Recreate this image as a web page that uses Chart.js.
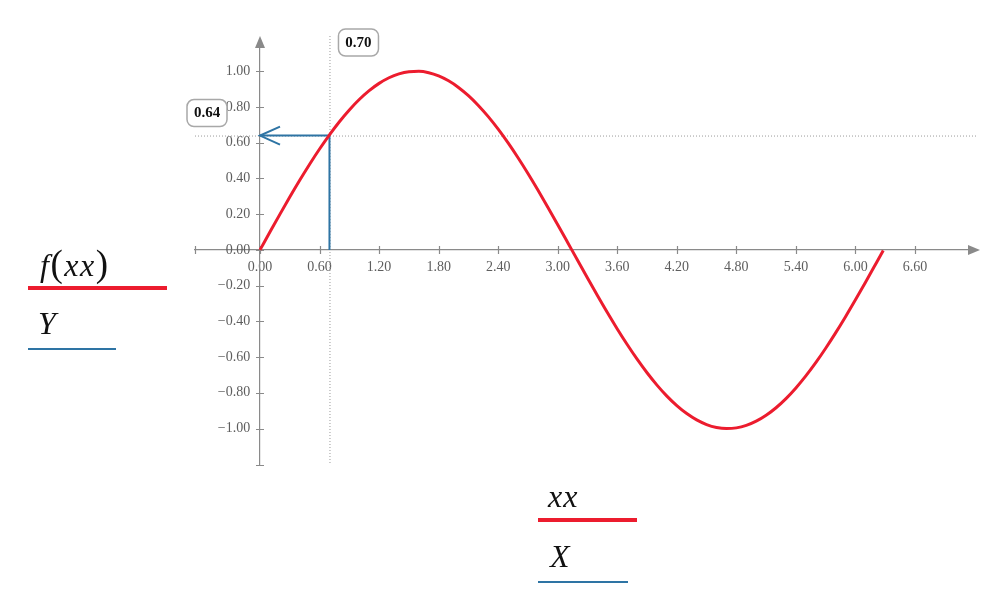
<!DOCTYPE html>
<html>
<head>
<meta charset="utf-8">
<script src="https://cdn.jsdelivr.net/npm/chart.js@4"></script>
<style>
  body { margin: 0; background: #fff; }
  #wrap { position: relative; width: 999px; height: 591px; }
  .leg { position: absolute; font-family: 'Liberation Serif', serif; font-style: italic; color: #111; white-space: nowrap; line-height: 1; font-size: 32px; }
  .up { font-style: normal; font-size: 37px; }
  .bar { position: absolute; }
</style>
</head>
<body>
<div id="wrap">
  <canvas id="plot" width="999" height="591"></canvas>
  <div class="leg" style="left:40px;top:245px;letter-spacing:1.5px">f<span class="up">(</span>xx<span class="up">)</span></div>
  <div class="bar" style="left:28px;top:286px;width:139px;height:4px;background:#ec1c2e"></div>
  <div class="leg" style="left:38px;top:307px">Y</div>
  <div class="bar" style="left:28px;top:348px;width:88px;height:2px;background:#2e74a4"></div>
  <div class="leg" style="left:548px;top:480px;letter-spacing:1px">xx</div>
  <div class="bar" style="left:538px;top:518px;width:99px;height:4px;background:#ec1c2e"></div>
  <div class="leg" style="left:550px;top:540px">X</div>
  <div class="bar" style="left:538px;top:581px;width:90px;height:2px;background:#2e74a4"></div>
</div>
<script>
const xx = [0, 0.1, 0.2, 0.3, 0.4, 0.5, 0.6, 0.7, 0.8, 0.9, 1.0, 1.1, 1.2, 1.3, 1.4, 1.5, 1.6, 1.7, 1.8, 1.9,
  2.0, 2.1, 2.2, 2.3, 2.4, 2.5, 2.6, 2.7, 2.8, 2.9, 3.0, 3.1, 3.2, 3.3, 3.4, 3.5, 3.6, 3.7, 3.8, 3.9,
  4.0, 4.1, 4.2, 4.3, 4.4, 4.5, 4.6, 4.7, 4.8, 4.9, 5.0, 5.1, 5.2, 5.3, 5.4, 5.5, 5.6, 5.7, 5.8, 5.9,
  6.0, 6.1, 6.2, 6.28];
const fxx = [0, 0.0998, 0.1987, 0.2955, 0.3894, 0.4794, 0.5646, 0.6442, 0.7174, 0.7833,
  0.8415, 0.8912, 0.9320, 0.9636, 0.9854, 0.9975, 0.9996, 0.9917, 0.9738, 0.9463,
  0.9093, 0.8632, 0.8085, 0.7457, 0.6755, 0.5985, 0.5155, 0.4274, 0.3350, 0.2392,
  0.1411, 0.0416, -0.0584, -0.1577, -0.2555, -0.3508, -0.4425, -0.5298, -0.6119, -0.6878,
  -0.7568, -0.8183, -0.8716, -0.9162, -0.9516, -0.9775, -0.9937, -0.9999, -0.9962, -0.9825,
  -0.9589, -0.9258, -0.8835, -0.8323, -0.7728, -0.7055, -0.6313, -0.5507, -0.4646, -0.3739,
  -0.2794, -0.1822, -0.0831, -0.0032];
const X = [0.70, 0.70, 0];
const Y = [0, 0.64, 0.64];
const markerX = 0.70;
const markerY = 0.64;
const xTicks = [0, 0.6, 1.2, 1.8, 2.4, 3.0, 3.6, 4.2, 4.8, 5.4, 6.0, 6.6];
const yTicks = [-1.0, -0.8, -0.6, -0.4, -0.2, 0, 0.2, 0.4, 0.6, 0.8, 1.0];

const axisGrey = '#8a8a8a';
const red = '#ec1c2e';
const blue = '#2e74a4';
const serif = '"Liberation Serif"';

function roundRect(ctx, x, y, w, h, r) {
  ctx.beginPath();
  ctx.moveTo(x + r, y);
  ctx.arcTo(x + w, y, x + w, y + h, r);
  ctx.arcTo(x + w, y + h, x, y + h, r);
  ctx.arcTo(x, y + h, x, y, r);
  ctx.arcTo(x, y, x + w, y, r);
  ctx.closePath();
}

const extras = {
  id: 'extras',
  beforeDatasetsDraw(chart) {
    const {ctx, chartArea: a, scales: {x, y}} = chart;
    const x0 = x.getPixelForValue(0), y0 = y.getPixelForValue(0);
    ctx.save();
    // marker lines
    ctx.strokeStyle = '#9a9a9a';
    ctx.lineWidth = 1;
    ctx.setLineDash([1, 2]);
    const mx = x.getPixelForValue(markerX), my = y.getPixelForValue(markerY);
    ctx.beginPath();
    ctx.moveTo(mx + 0.5, a.top - 12); ctx.lineTo(mx + 0.5, a.bottom);
    ctx.moveTo(a.left, my + 0.5); ctx.lineTo(a.right + 10, my + 0.5);
    ctx.stroke();
    ctx.setLineDash([]);
    // ticks crossing the axes
    ctx.strokeStyle = axisGrey;
    ctx.lineWidth = 1.2;
    ctx.beginPath();
    xTicks.concat([x.min]).forEach(v => {
      const p = Math.round(x.getPixelForValue(v)) + 0.5;
      ctx.moveTo(p, y0 - 4); ctx.lineTo(p, y0 + 4);
    });
    yTicks.concat([y.min]).forEach(v => {
      const p = Math.round(y.getPixelForValue(v)) + 0.5;
      ctx.moveTo(x0 - 4, p); ctx.lineTo(x0 + 4, p);
    });
    ctx.stroke();
    // arrowheads
    ctx.fillStyle = axisGrey;
    ctx.beginPath();
    ctx.moveTo(x0, a.top - 12); ctx.lineTo(x0 - 5, a.top); ctx.lineTo(x0 + 5, a.top); ctx.closePath();
    ctx.fill();
    ctx.beginPath();
    ctx.moveTo(a.right + 12, y0); ctx.lineTo(a.right, y0 - 5); ctx.lineTo(a.right, y0 + 5); ctx.closePath();
    ctx.fill();
    ctx.restore();
  },
  afterDatasetsDraw(chart) {
    const {ctx, chartArea: a, scales: {x, y}} = chart;
    const mx = x.getPixelForValue(markerX), my = y.getPixelForValue(markerY);
    const tx = x.getPixelForValue(X[2]);
    ctx.save();
    // open arrow at end of the Y trace
    ctx.strokeStyle = blue;
    ctx.lineWidth = 2;
    ctx.beginPath();
    ctx.moveTo(tx + 20, my - 9); ctx.lineTo(tx, my); ctx.lineTo(tx + 20, my + 9);
    ctx.stroke();
    // value boxes
    ctx.font = 'bold 15px ' + serif;
    ctx.textAlign = 'center';
    ctx.textBaseline = 'middle';
    const boxes = [
      [mx + 9, a.top - 19, markerX.toFixed(2)],
      [a.left - 8, my - 36, markerY.toFixed(2)]
    ];
    boxes.forEach(([bx, by, t]) => {
      roundRect(ctx, bx, by, 40, 27, 7);
      ctx.fillStyle = '#fff';
      ctx.fill();
      ctx.strokeStyle = '#a8a8a8';
      ctx.lineWidth = 1.5;
      ctx.stroke();
      ctx.fillStyle = '#111';
      ctx.fillText(t, bx + 20, by + 14);
    });
    ctx.restore();
  }
};

const fmt = v => v.toFixed(2).replace('-', '\u2212');

new Chart(document.getElementById('plot'), {
  type: 'line',
  data: {
    datasets: [
      {
        label: 'f(xx)',
        data: xx.map((v, i) => ({x: v, y: fxx[i]})),
        borderColor: red,
        borderWidth: 3,
        pointRadius: 0,
        tension: 0.4,
        cubicInterpolationMode: 'monotone'
      },
      {
        label: 'Y',
        data: X.map((v, i) => ({x: v, y: Y[i]})),
        borderColor: blue,
        borderWidth: 2,
        pointRadius: 0,
        tension: 0
      }
    ]
  },
  options: {
    responsive: false,
    animation: false,
    events: [],
    layout: { padding: { left: 195, right: 31, top: 48, bottom: 126 } },
    plugins: {
      legend: { display: false },
      tooltip: { enabled: false }
    },
    scales: {
      x: {
        type: 'linear',
        min: -0.655,
        max: 7.134,
        position: { y: 0 },
        afterBuildTicks: s => { s.ticks = xTicks.map(v => ({value: v})); },
        grid: { display: false },
        border: { color: axisGrey, width: 1.2 },
        ticks: {
          callback: v => fmt(v),
          color: '#5e5e5e',
          padding: 1,
          maxRotation: 0,
          autoSkip: false,
          font: { family: serif, size: 14 }
        }
      },
      y: {
        type: 'linear',
        min: -1.204,
        max: 1.13,
        position: { x: 0 },
        afterBuildTicks: s => { s.ticks = yTicks.map(v => ({value: v})); },
        grid: { display: false },
        border: { color: axisGrey, width: 1.2 },
        ticks: {
          // trailing spaces keep the right-aligned labels clear of the axis
          callback: v => fmt(v) + '\u2002\u2009',
          color: '#5e5e5e',
          autoSkip: false,
          font: { family: serif, size: 14 }
        }
      }
    }
  },
  plugins: [extras]
});
</script>
</body>
</html>
